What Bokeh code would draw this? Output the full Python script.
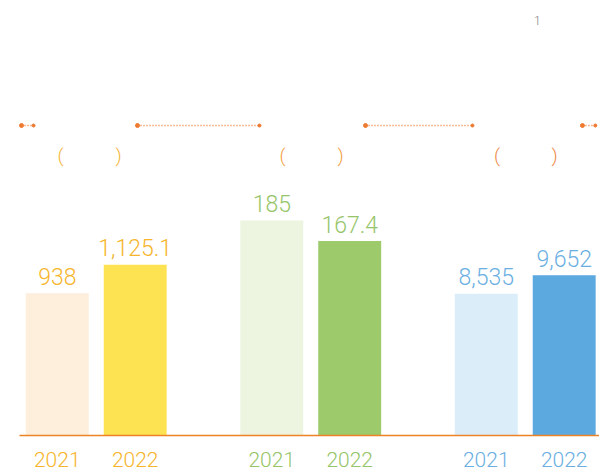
from bokeh.plotting import figure
from bokeh.models import ColumnDataSource, Range1d
from bokeh.core.properties import value
from bokeh.embed import file_html
from bokeh.resources import INLINE

# ---- data ----
years = ["2021", "2022"]
group_ids = ["g1", "g2", "g3"]
values_2021 = [938, 185, 8535]
values_2022 = [1125.1, 167.4, 9652]
footnote = "1"

# ---- styling / layout ----
W, H = 599, 473
BASE_PX = 38                      # baseline height above frame bottom (px)
axis_top = [2867, 374.5, 26190]   # per-group value at the top of the frame
bar_colors = [["#FDEFDC", "#FDE352"], ["#EDF4E0", "#9DCA6B"], ["#DBEDF9", "#5BA9DF"]]
label_colors = ["#F6B52C", "#96C56A", "#6BAFE2"]
paren_colors = ["#F6B53A", "#F4A044", "#EE8A48"]
FONT = "'Roboto Light', Roboto"
GROUP_STEP = 3.0
BAR_OFF = 0.545
BAR_W = 0.88
UNIT = 71.5
X0 = -1.339

p = figure(width=W, height=H, output_backend="svg", toolbar_location=None,
           x_range=Range1d(X0, X0 + W / UNIT), y_range=Range1d(0, H),
           min_border=0, min_border_left=0, min_border_right=0,
           min_border_top=0, min_border_bottom=0)
p.axis.visible = False
p.grid.visible = False
p.outline_line_color = None
p.background_fill_color = "white"
p.border_fill_color = "white"

for gi, gid in enumerate(group_ids):
    top = axis_top[gi]
    start = -top * BASE_PX / (H - BASE_PX)
    p.extra_y_ranges[gid] = Range1d(start, top)
    center = gi * GROUP_STEP
    vals = [values_2021[gi], values_2022[gi]]
    src = ColumnDataSource(dict(
        x=[center - BAR_OFF, center + BAR_OFF],
        top=vals,
        color=bar_colors[gi],
        label=[f"{v:,}" for v in vals],
        year=years,
        zero=[0, 0],
    ))
    p.vbar(x="x", top="top", bottom=0, width=BAR_W, fill_color="color",
           line_color=None, source=src, y_range_name=gid)
    p.text(x="x", y="top", text="label", source=src, y_range_name=gid,
           text_align="center", text_baseline="alphabetic", y_offset=-17,
           text_font=value(FONT), text_font_size="23px",
           text_color=label_colors[gi])
    p.text(x="x", y="zero", text="year", source=src, y_range_name=gid,
           text_align="center", text_baseline="alphabetic", y_offset=24,
           text_font=value(FONT), text_font_size="21px",
           text_color=label_colors[gi])

# baseline
p.segment(x0=[X0 + 19 / UNIT], x1=[X0 + W / UNIT + 1], y0=[0], y1=[0],
          y_range_name="g1", line_color="#EE8226", line_width=1.5)

# header decorations: dotted leader lines and brackets
DOT_Y = 348
lead_x0 = [-1.045, 0.577, 3.766, 6.80]
lead_x1 = [-0.877, 2.283, 5.262, 6.98]
p.segment(x0=lead_x0, x1=lead_x1, y0=[DOT_Y] * 4, y1=[DOT_Y] * 4,
          line_color="#EE7A30", line_width=1.5, line_dash="1 2")
p.scatter(x=lead_x0, y=[DOT_Y] * 4, size=4, color="#EE7A30")
p.scatter(x=lead_x1, y=[DOT_Y] * 4, size=3, color="#EE7A30")

PAREN_Y = 318
open_x = [-0.500, 2.605, 5.605]
close_x = [0.311, 3.416, 6.409]
p.text(x=open_x, y=[PAREN_Y] * 3, text=["("] * 3, text_align="center",
       text_baseline="middle", text_font=value(FONT), text_font_size="19px",
       text_color=paren_colors)
p.text(x=close_x, y=[PAREN_Y] * 3, text=[")"] * 3, text_align="center",
       text_baseline="middle", text_font=value(FONT), text_font_size="19px",
       text_color=paren_colors)

p.text(x=[6.17], y=[453], text=[footnote], text_align="center",
       text_baseline="middle", text_font=value(FONT), text_font_size="12px",
       text_color="#808080")

open("out.html", "w").write(file_html(p, INLINE))
